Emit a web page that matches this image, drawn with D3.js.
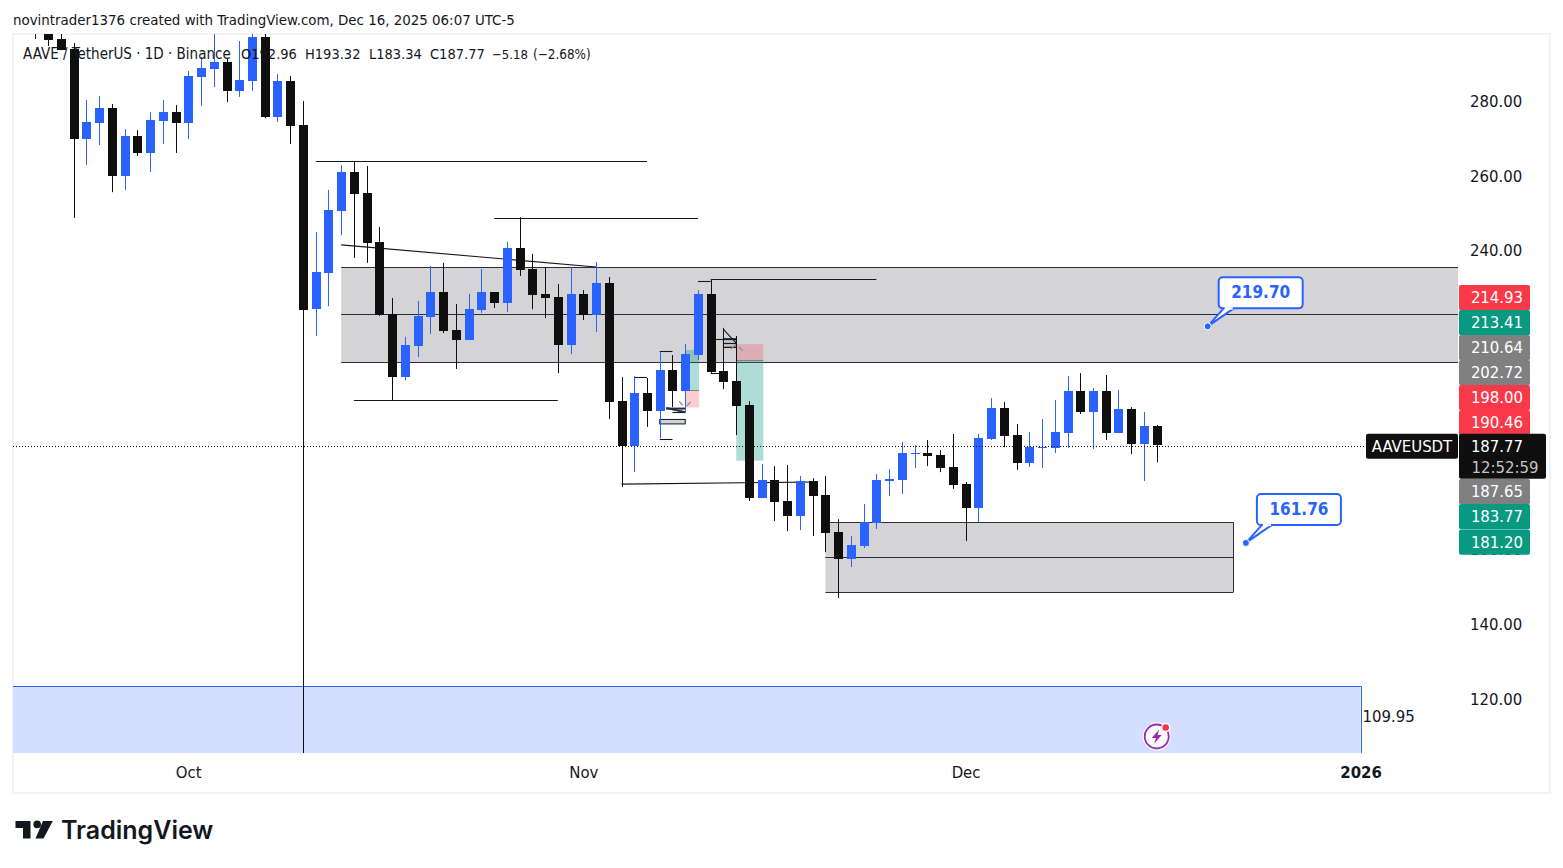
<!DOCTYPE html>
<html><head><meta charset="utf-8">
<script src="https://cdn.jsdelivr.net/npm/d3@7/dist/d3.min.js"></script>
<style>
html,body{margin:0;padding:0;background:#fff;overflow:hidden}
svg{display:block}
text{font-family:"DejaVu Sans Condensed","DejaVu Sans",sans-serif;font-stretch:condensed}
</style></head><body><svg id="c" width="1563" height="868"></svg>
<script>
// ---- data ----
const firstBar = "2025-09-19";
const opens  = [301,298.9,296.6,293.9,269.8,274.1,278.1,259.9,270.6,266.1,274.6,277.0,274.1,286.4,288.6,290.4,282.7,285.3,297.1,275.7,285.3,273.6,224.3,234.0,250.6,261.0,255.4,242.3,223.0,206.1,214.4,222.2,228.9,218.7,216.05,224.1,228.9,225.95,240.7,235.05,228.4,227.55,214.7,228.4,222.7,231.3,199.7,187.7,201.9,197.05,208.0,202.4,212.0,228.4,207.75,205.1,198.6,173.8,178.6,173.0,169.0,178.3,174.6,164.7,157.45,160.9,167.1,178.3,178.6,185.5,185.8,185.3,182.07,177.5,171.1,189.6,197.9,190.6,183.1,187.15,187.15,191.15,202.4,196.8,202.4,191.15,197.6,188.2,192.96];
const highs  = [304,300,298,295.5,280.3,281.3,279.2,272.5,272.2,277.0,280.3,278.9,288.0,291.8,297.9,291.5,296.05,298,298,287.2,286.7,280,244.95,256.2,262.9,263.9,262.6,246.3,227.3,216.9,226.5,235.9,236.7,225.7,228.4,235.05,228.9,242.3,248.9,239.1,235.6,231.0,235.6,229.4,236.9,232.9,206.1,206.4,205.9,212.8,212.0,215.0,229.4,232.1,219.3,217.1,199.7,182.9,182.3,182.6,179.7,179.1,179.7,168.1,163.6,172.2,180.2,181.5,188.8,187.95,189.3,186.6,190.9,178.05,190.9,200.5,199.5,193.6,191.4,194.9,200.0,206.4,207.2,203.2,206.7,202.7,198.1,196.8,193.32];
const lows   = [296.6,294.7,293.6,248.7,262.9,268.2,255.6,256.2,265.3,261.0,268.5,266.1,269.8,278.7,283.7,279.7,281.1,282.7,275.4,274.4,268.5,100,217.1,225.1,244.1,238.0,236.7,222.5,200.0,205.3,211.5,217.7,217.9,208.3,216.05,223.3,224.6,223.5,233.2,224.3,221.9,207.2,212.3,221.4,218.2,194.9,176.7,180.7,192.8,189.8,198.1,196.5,210.7,207.2,202.9,190.6,172.98,173.8,167.6,164.9,165.2,163.6,159.3,147.0,155.3,160.4,165.5,174.3,174.9,181.8,182.3,180.7,176.2,162.3,167.35,189.3,187.4,181.3,182.07,181.8,185.8,187.15,196.25,186.9,189.3,191.15,185.5,178.3,183.34];
const closes = [298.5,296.3,293.6,269.8,274.4,278.1,259.9,270.6,266.1,274.9,277.0,274.1,286.7,288.8,290.4,282.7,285.6,297.1,275.7,285.3,273.3,224.1,234.3,250.8,261.0,255.1,242.0,222.7,206.1,214.7,222.5,228.9,218.5,216.05,224.3,228.9,225.95,240.7,234.8,228.1,227.3,214.7,228.4,222.7,231.3,199.5,187.7,201.9,197.05,208.0,202.4,212.3,228.4,207.5,204.8,198.4,173.8,178.6,172.7,169.0,178.3,174.3,164.4,157.45,161.2,167.3,178.6,178.9,185.8,185.8,185.0,181.8,177.25,171.1,189.8,197.9,190.4,183.1,187.4,187.4,191.4,202.4,196.8,202.4,191.15,197.6,188.2,193.0,187.77];

const priceTicks = [280,260,240,160,140,120];
const timeTicks = [["2025-10-01","Oct",false],["2025-11-01","Nov",false],["2025-12-01","Dec",false],["2026-01-01","2026",true]];

const grayZones = [
  {from:"2025-10-13", to:null,         top:235.6, mid:222.9, bot:210.1},
  {from:"2025-11-20", to:"2025-12-22", top:167.3, mid:157.9, bot:148.55}
];
const blueZone = {to:"2026-01-01", top:123.47, label:"109.95"};
const trendLines = [
  ["2025-10-11",263.9,"2025-11-06",263.9],
  ["2025-10-25",248.7,"2025-11-10",248.7],
  ["2025-10-14",200.0,"2025-10-30",200.0],
  ["2025-10-13",241.5,"2025-11-02",235.6],
  ["2025-11-11",232.5,"2025-11-24",232.5],
  ["2025-11-10",231.9,"2025-11-11",231.9],
  ["2025-11-04",177.5,"2025-11-19",178.05],
  ["2025-11-05",206.15,"2025-11-06",206.15],
  ["2025-11-07",213.0,"2025-11-08",213.0],
  ["2025-11-07",189.5,"2025-11-08",189.5],
  ["2025-11-08",196.9,"2025-11-09",196.9],
  ["2025-11-12",218.9,"2025-11-13",215.2],
  ["2025-11-12",216.4,"2025-11-13",216.4],
  ["2025-11-12",215.2,"2025-11-13",215.2],
  ["2025-11-12",214.1,"2025-11-13",214.1],
  ["2025-11-11",216.4,"2025-11-12",216.4],
  ["2025-11-11",207.3,"2025-11-12",207.3]
];
const thickLines = [["2025-11-07T12:00Z",197.7,"2025-11-09",197.7],["2025-11-07T12:00Z",197.9,"2025-11-09",196.7]];
const faintMarks = [
  ["2025-11-08T12:50Z",199.6,"2025-11-08T19:12Z",198.6],
  ["2025-11-09T02:47Z",198.4,"2025-11-09T10:20Z",199.5],
  ["2025-11-12T14:10Z",213.6,"2025-11-12T21:40Z",214.7],
  ["2025-11-13T05:50Z",214.1,"2025-11-13T12:15Z",213.2]
];
const shadedBands = [
  {from:"2025-11-07",to:"2025-11-09",top:194.8,bot:193.6},
  {from:"2025-11-12",to:"2025-11-13",top:216.4,bot:214.1}
];
const positions = [
  {from:"2025-11-09",to:"2025-11-10T02:00Z",tp:213.41,entry:202.72,stop:198.00},
  {from:"2025-11-13",to:"2025-11-15T03:00Z",tp:183.77,entry:210.64,stop:214.93}
];
const callouts = [
  {date:"2025-12-20",price:219.70},
  {date:"2025-12-23",price:161.76}
];
const priceTags = [
  ["214.93","#f7394a"],["213.41","#089981"],["210.64","#808080"],["202.72","#808080"],
  ["198.00","#f7394a"],["190.46","#f7394a"],["187.65","#808080"],["183.77","#089981"],["181.20","#089981"]
];
const lastPrice = 187.77, countdown = "12:52:59", symbol = "AAVEUSDT";
const titleText = "novintrader1376 created with TradingView.com, Dec 16, 2025 06:07 UTC-5";
const legendParts = ["AAVE / TetherUS · 1D · Binance","O192.96","H193.32","L183.34","C187.77","−5.18","(−2.68%)"];

// ---- layout ----
const pane = {l:13,r:1458,t:34,b:753};
const BLUE="#2962ff", BLACK="#0f0f0f", INK="#131722";
const svg = d3.select("#c");
const dt = s => new Date(s.length===10 ? s+"T00:00:00Z" : s);
const x = d3.scaleUtc().domain([dt("2025-11-01"),dt("2026-01-01")]).range([583.3,1360.6]);
const y = d3.scaleLinear().domain([280,120]).range([101,699]);
const bars = opens.map((o,i)=>({date:d3.utcDay.offset(dt(firstBar),i),o,h:highs[i],l:lows[i],c:closes[i]}));
const crisp = v => Math.round(v)+.5;

// frame
svg.append("rect").attr("x",13).attr("y",34).attr("width",1537).attr("height",759).attr("fill","#fff").attr("stroke","#f1f3f6").attr("stroke-width",2);
svg.append("text").attr("x",13).attr("y",24.5).attr("font-size",14.9).attr("fill",INK).text(titleText);

svg.append("defs").append("clipPath").attr("id","pane").append("rect")
  .attr("x",pane.l).attr("y",pane.t).attr("width",pane.r-pane.l).attr("height",pane.b-pane.t);
const g = svg.append("g").attr("clip-path","url(#pane)");

// gray zones
grayZones.forEach(z=>{
  const x0=x(dt(z.from)), x1=z.to?x(dt(z.to)):pane.r;
  g.append("rect").attr("x",x0).attr("y",y(z.top)).attr("width",x1-x0).attr("height",y(z.bot)-y(z.top)).attr("fill","#d4d4d7");
  [z.top,z.mid,z.bot].forEach(p=>g.append("line").attr("x1",x0).attr("x2",x1).attr("y1",crisp(y(p))).attr("y2",crisp(y(p))).attr("stroke","#2a2e39").attr("stroke-width",1));
  if(z.to) g.append("line").attr("x1",crisp(x1)).attr("x2",crisp(x1)).attr("y1",y(z.top)).attr("y2",y(z.bot)).attr("stroke","#2a2e39");
});
// blue zone
{
  const x1=x(dt(blueZone.to));
  g.append("rect").attr("x",pane.l).attr("y",y(blueZone.top)).attr("width",x1-pane.l).attr("height",pane.b-y(blueZone.top)).attr("fill","#d4dfff");
  g.append("path").attr("d",`M${pane.l},${crisp(y(blueZone.top))}H${crisp(x1)}V${pane.b}`).attr("fill","none").attr("stroke",BLUE);
  svg.append("text").attr("x",x1+2).attr("y",y(blueZone.top)+36).attr("font-size",16.6).attr("fill",INK).text(blueZone.label);
}
// legend (sits under the candles)
const legendX=[23,241,305,369,430,492,533];
const legendSize=[15,14.5,14.5,14.5,14.5,13,13.4];
legendParts.forEach((t,i)=>svg.append("text").attr("x",legendX[i]).attr("y",59).attr("font-size",legendSize[i]).attr("fill",INK).text(t));

// positions
positions.forEach(p=>{
  const x0=x(dt(p.from)), x1=x(dt(p.to));
  const teal=[Math.max(p.tp,p.entry),Math.min(p.tp,p.entry)], red=[Math.max(p.stop,p.entry),Math.min(p.stop,p.entry)];
  g.append("rect").attr("x",x0).attr("width",x1-x0).attr("y",y(teal[0])).attr("height",y(teal[1])-y(teal[0])).attr("fill","#089981").attr("fill-opacity",.33);
  g.append("rect").attr("x",x0).attr("width",x1-x0).attr("y",y(red[0])).attr("height",y(red[1])-y(red[0])).attr("fill","#f23645").attr("fill-opacity",.25);
  g.append("line").attr("x1",x0).attr("x2",x1).attr("y1",crisp(y(p.entry))).attr("y2",crisp(y(p.entry))).attr("stroke","#808080");
});

// drawings
shadedBands.forEach(b=>{
  g.append("rect").attr("x",x(dt(b.from))).attr("width",x(dt(b.to))-x(dt(b.from))).attr("y",y(b.top)).attr("height",y(b.bot)-y(b.top))
   .attr("fill","#b2b5be").attr("fill-opacity",.6).attr("stroke",INK);
});
g.selectAll(".tl").data(trendLines).join("line").attr("class","tl")
  .attr("x1",d=>x(dt(d[0]))).attr("x2",d=>x(dt(d[2])))
  .attr("y1",d=>d[1]===d[3]?crisp(y(d[1])):y(d[1])).attr("y2",d=>d[1]===d[3]?crisp(y(d[3])):y(d[3]))
  .attr("stroke",INK).attr("stroke-width",1.1);
g.selectAll(".thk").data(thickLines).join("line").attr("class","thk")
  .attr("x1",d=>x(dt(d[0]))).attr("y1",d=>y(d[1])).attr("x2",d=>x(dt(d[2]))).attr("y2",d=>y(d[3])).attr("stroke","#2a2e39").attr("stroke-width",2);
g.selectAll(".fm").data(faintMarks).join("line").attr("class","fm")
  .attr("x1",d=>x(dt(d[0]))).attr("y1",d=>y(d[1])).attr("x2",d=>x(dt(d[2]))).attr("y2",d=>y(d[3])).attr("stroke","#8a8d96").attr("stroke-width",1.2);

// candles
const cg=g.append("g");
cg.selectAll(".w").data(bars).join("line").attr("class","w")
  .attr("x1",d=>Math.round(x(d.date))+.5).attr("x2",d=>Math.round(x(d.date))+.5)
  .attr("y1",d=>y(d.h)).attr("y2",d=>y(d.l)).attr("stroke",d=>d.c>=d.o?BLUE:BLACK);
cg.selectAll(".b").data(bars).join("rect").attr("class","b")
  .attr("x",d=>Math.round(x(d.date))-4).attr("width",9)
  .attr("y",d=>Math.round(y(Math.max(d.o,d.c)))).attr("height",d=>Math.max(1,Math.round(Math.abs(y(d.o)-y(d.c)))))
  .attr("fill",d=>d.c>=d.o?BLUE:BLACK);

// last-price dotted line
g.append("line").attr("x1",pane.l).attr("x2",pane.r).attr("y1",Math.round(y(lastPrice))+.5).attr("y2",Math.round(y(lastPrice))+.5)
  .attr("stroke","#0f0f0f").attr("stroke-dasharray","1 2");

// callouts
callouts.forEach(c=>{
  const px=x(dt(c.date)), py=y(c.price);
  const bx=px+11, by=py-49, w=84, h=31;
  const gc=svg.append("g");
  gc.append("path").attr("d",`M${bx+5},${by+h}L${px},${py}L${bx+15},${by+h}`).attr("fill","#fff").attr("stroke",BLUE).attr("stroke-width",2);
  gc.append("rect").attr("x",bx).attr("y",by).attr("width",w).attr("height",h).attr("rx",4).attr("fill","#fff").attr("stroke",BLUE).attr("stroke-width",2);
  gc.append("line").attr("x1",bx+6).attr("x2",bx+14).attr("y1",by+h).attr("y2",by+h).attr("stroke","#fff").attr("stroke-width",2.5);
  gc.append("circle").attr("cx",px).attr("cy",py).attr("r",3.5).attr("fill",BLUE).attr("stroke","#fff").attr("stroke-width",1);
  gc.append("text").attr("x",bx+w/2).attr("y",by+21).attr("text-anchor","middle").attr("font-size",17).attr("font-weight",700).attr("fill",BLUE).text(c.price.toFixed(2));
});

// icon
{
  const ix=x(bars[bars.length-1].date), iy=736.5;
  const ic=svg.append("g").attr("transform",`translate(${ix},${iy})`);
  ic.append("circle").attr("r",14).attr("fill","#fff").attr("fill-opacity",.9);
  ic.append("circle").attr("r",12).attr("fill","none").attr("stroke","#9c27b0").attr("stroke-width",1.8);
  ic.append("path").attr("d","M2.5,-7L-5,1.5H-.8L-2.5,7L5,-1.5H.8Z").attr("fill","#9c27b0");
  ic.append("circle").attr("cx",9).attr("cy",-9).attr("r",4.5).attr("fill","#fff");
  ic.append("circle").attr("cx",9).attr("cy",-9).attr("r",3.3).attr("fill","#f23645");
}

// price axis
const FF='"DejaVu Sans Condensed","DejaVu Sans",sans-serif';
const yAxis=d3.axisRight(y).tickValues(priceTicks).tickFormat(d3.format(".2f")).tickSize(0).tickPadding(0);
const ya=svg.append("g").attr("transform","translate(1470,0)").call(yAxis);
ya.select(".domain").remove();
ya.selectAll("text").attr("font-size",16.6).attr("fill",INK).style("font-family",FF).style("font-stretch","condensed").attr("dy","0.33em");

// time axis
const xAxis=d3.axisBottom(x).tickValues(timeTicks.map(t=>dt(t[0]))).tickFormat((d,i)=>timeTicks[i][1]).tickSize(0).tickPadding(0);
const xa=svg.append("g").attr("transform","translate(0,766)").call(xAxis);
xa.select(".domain").remove();
xa.selectAll("text").attr("font-size",16.6).attr("fill",INK).style("font-family",FF).style("font-stretch","condensed").attr("dy","0.71em")
  .attr("font-weight",(d,i)=>timeTicks[i][2]?700:400);

// price tags
const tagTop=[285,310,335,360,385,410,479,504,529.5];
priceTags.forEach((t,i)=>{
  svg.append("rect").attr("x",1459).attr("y",tagTop[i]).attr("width",71).attr("height",25.2).attr("rx",2).attr("fill",t[1]);
  svg.append("text").attr("x",1497).attr("y",tagTop[i]+18).attr("text-anchor","middle").attr("font-size",16.6).attr("fill","#fff").text(t[0]);
});
const ly=y(lastPrice);
svg.append("rect").attr("x",1366).attr("y",ly-12).attr("width",92).attr("height",25).attr("rx",2).attr("fill",BLACK);
svg.append("text").attr("x",1412).attr("y",ly+6.5).attr("text-anchor","middle").attr("font-size",16.6).attr("fill","#fff").text(symbol);
svg.append("rect").attr("x",1459).attr("y",ly-12).attr("width",87).attr("height",45).attr("rx",2).attr("fill",BLACK);
svg.append("text").attr("x",1497).attr("y",ly+6.5).attr("text-anchor","middle").attr("font-size",16.6).attr("fill","#fff").text(lastPrice.toFixed(2));
svg.append("text").attr("x",1505).attr("y",ly+27).attr("text-anchor","middle").attr("font-size",16.6).attr("fill","#c4c4c4").text(countdown);

// logo
const lo=svg.append("g").attr("fill","#131722");
lo.append("path").attr("d","M15.5,821H30.5V838.5H23V828H15.5Z");
lo.append("circle").attr("cx",37.2).attr("cy",824.4).attr("r",3.8);
lo.append("path").attr("d","M43,821H52.8L43.5,838.5H35.5Z");
svg.append("text").attr("x",61).attr("y",839).attr("font-size",25).attr("font-weight",600).attr("fill","#131722").style("font-family","Inter,sans-serif").style("font-stretch","normal").text("TradingView");
</script></body></html>
